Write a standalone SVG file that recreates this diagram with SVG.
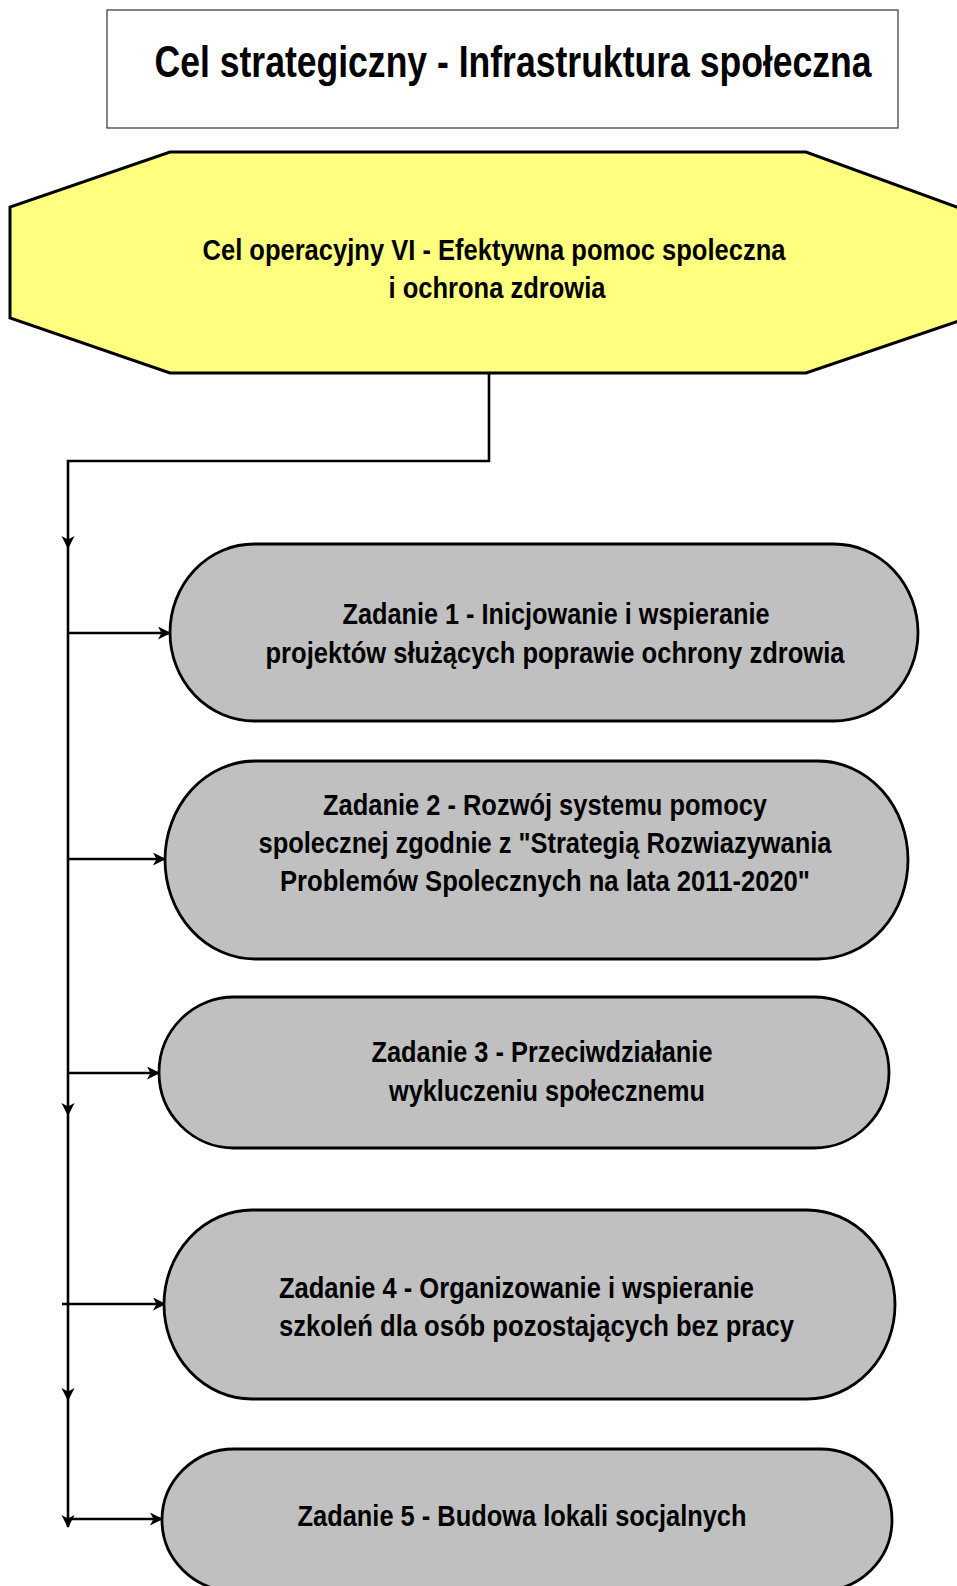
<svg xmlns="http://www.w3.org/2000/svg" width="957" height="1586" viewBox="0 0 957 1586">
<style>
.t{font-family:"Liberation Sans Narrow","Liberation Sans",Arial,sans-serif;font-weight:bold;fill:#000;}
.pill{fill:#C0C0C0;stroke:#000;stroke-width:2.8;}
.con{fill:none;stroke:#000;stroke-width:2.6;}
</style>
<defs>
<marker id="arr" markerUnits="userSpaceOnUse" markerWidth="16" markerHeight="16" refX="12" refY="6.5" orient="auto">
<path d="M0,0 L13,6.5 L0,13 L3.5,6.5 z" fill="#000"/>
</marker>
</defs>
<rect width="957" height="1586" fill="#fff"/>
<g id="title">
<rect x="107" y="10" width="791" height="118" fill="#fff" stroke="#333" stroke-width="1.2"/>
<text class="t" transform="translate(513,77) scale(1,1.15)" x="0" y="0" font-size="38" text-anchor="middle" textLength="717" lengthAdjust="spacingAndGlyphs">Cel strategiczny - Infrastruktura społeczna</text>
</g>
<g id="goal">
<polygon points="170,152 806,152 962,209 962,320 806,373 170,373 10,318 10,207" fill="#FFFF80" stroke="#000" stroke-width="3"/>
<text class="t" x="494" y="260" font-size="29" text-anchor="middle" textLength="583" lengthAdjust="spacingAndGlyphs">Cel operacyjny VI - Efektywna pomoc spoleczna</text>
<text class="t" x="497" y="298" font-size="29" text-anchor="middle" textLength="217" lengthAdjust="spacingAndGlyphs">i ochrona zdrowia</text>
</g>
<g id="connectors">
<polyline class="con" points="489,374 489,461 68,461 68,548" marker-end="url(#arr)"/>
<line class="con" x1="68" y1="548" x2="68" y2="1115" marker-end="url(#arr)"/>
<line class="con" x1="68" y1="1115" x2="68" y2="1400" marker-end="url(#arr)"/>
<line class="con" x1="68" y1="1400" x2="68" y2="1527" marker-end="url(#arr)"/>
<line class="con" x1="68" y1="633" x2="170" y2="633" marker-end="url(#arr)"/>
<line class="con" x1="68" y1="859" x2="165" y2="859" marker-end="url(#arr)"/>
<line class="con" x1="68" y1="1073" x2="159" y2="1073" marker-end="url(#arr)"/>
<line class="con" x1="62" y1="1304" x2="165" y2="1304" marker-end="url(#arr)"/>
<line class="con" x1="68" y1="1519" x2="162" y2="1519" marker-end="url(#arr)"/>
</g>
<g id="task1">
<rect class="pill" x="170" y="544" width="748" height="177" rx="84" ry="88.5"/>
<text class="t" x="556" y="624" font-size="29.5" text-anchor="middle" textLength="427" lengthAdjust="spacingAndGlyphs">Zadanie 1 - Inicjowanie i wspieranie</text>
<text class="t" x="555" y="663" font-size="29.5" text-anchor="middle" textLength="579" lengthAdjust="spacingAndGlyphs">projektów służących poprawie ochrony zdrowia</text>
</g>
<g id="task2">
<rect class="pill" x="165" y="761" width="743" height="198" rx="90" ry="99"/>
<text class="t" x="545" y="815" font-size="29.5" text-anchor="middle" textLength="444" lengthAdjust="spacingAndGlyphs">Zadanie 2 - Rozwój systemu pomocy</text>
<text class="t" x="545" y="853" font-size="29.5" text-anchor="middle" textLength="573" lengthAdjust="spacingAndGlyphs">spolecznej zgodnie z "Strategią Rozwiazywania</text>
<text class="t" x="545" y="891" font-size="29.5" text-anchor="middle" textLength="530" lengthAdjust="spacingAndGlyphs">Problemów Spolecznych na lata 2011-2020"</text>
</g>
<g id="task3">
<rect class="pill" x="159" y="997" width="730" height="151" rx="75" ry="75.5"/>
<text class="t" x="542" y="1062" font-size="29.5" text-anchor="middle" textLength="341" lengthAdjust="spacingAndGlyphs">Zadanie 3 - Przeciwdziałanie</text>
<text class="t" x="547" y="1101" font-size="29.5" text-anchor="middle" textLength="316" lengthAdjust="spacingAndGlyphs">wykluczeniu społecznemu</text>
</g>
<g id="task4">
<rect class="pill" x="164" y="1210" width="731" height="189" rx="88" ry="94.5"/>
<text class="t" x="279" y="1298" font-size="29" textLength="475" lengthAdjust="spacingAndGlyphs">Zadanie 4 - Organizowanie i wspieranie</text>
<text class="t" x="279" y="1336" font-size="29" textLength="515" lengthAdjust="spacingAndGlyphs">szkoleń dla osób pozostających bez pracy</text>
</g>
<g id="task5">
<rect class="pill" x="162" y="1449" width="730" height="142" rx="72" ry="71"/>
<text class="t" x="522" y="1526" font-size="29.5" text-anchor="middle" textLength="449" lengthAdjust="spacingAndGlyphs">Zadanie 5 - Budowa lokali socjalnych</text>
</g>
</svg>
